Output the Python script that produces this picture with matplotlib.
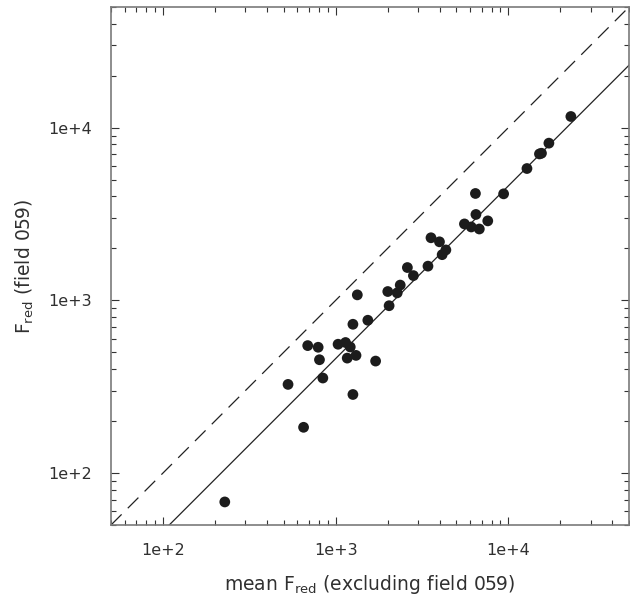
import matplotlib
matplotlib.use("Agg")
import matplotlib.pyplot as plt
import numpy as np
from matplotlib.ticker import LogLocator, FixedLocator, FixedFormatter, NullFormatter

plt.rcParams['font.family'] = ['DejaVu Sans']
plt.rcParams['mathtext.fontset'] = 'dejavusans'

# data
mean_f_red = [228, 530, 652, 689, 792, 806, 843, 1033, 1141, 1215, 1167, 1312,
              1259, 1259, 1335, 1536, 1704, 2004, 2040, 2273, 2366, 2603, 2821,
              3425, 3566, 3993, 4139, 4349, 5571, 6099, 6450, 6493, 6793, 7603,
              9393, 12823, 15150, 15560, 17180, 23030]
f_red_059 = [68, 326, 184, 547, 535, 453, 355, 557, 570, 537, 463, 480,
             727, 285, 1076, 767, 445, 1125, 931, 1105, 1226, 1549, 1391,
             1578, 2304, 2183, 1839, 1959, 2771, 2661, 4159, 3144, 2590, 2886,
             4139, 5801, 7047, 7112, 8136, 11610]
axis_limits = [50, 50000]
fit_ratio = 0.46
major_ticks = [1e2, 1e3, 1e4]
major_labels = ['1e+2', '1e+3', '1e+4']

text_color = '#303030'
frame_color = '#7a7a7a'

fig = plt.figure(figsize=(6.30, 6.04), dpi=100)
ax = fig.add_axes([111/630, 79/604, 518/630, 518/604])
ax.set_xscale('log')
ax.set_yscale('log')
ax.set_xlim(axis_limits)
ax.set_ylim(axis_limits)

lx = np.array(axis_limits, dtype=float)
ax.plot(lx, lx, color='#222222', lw=0.9, dashes=(12, 7))
ax.plot(lx, fit_ratio * lx, color='#222222', lw=0.9)

ax.scatter(mean_f_red, f_red_059, s=60, color='#1c1c1c', edgecolors='none', zorder=3)

for a in (ax.xaxis, ax.yaxis):
    a.set_major_locator(FixedLocator(major_ticks))
    a.set_major_formatter(FixedFormatter(major_labels))
    a.set_minor_locator(LogLocator(base=10, subs=np.arange(2, 10)))
    a.set_minor_formatter(NullFormatter())

ax.tick_params(which='both', direction='in', top=True, right=True,
               color='#333333', width=0.8, labelcolor=text_color, labelsize=11.5)
ax.tick_params(which='major', length=5.5)
ax.tick_params(which='minor', length=3.5)
ax.tick_params(axis='x', which='major', pad=13)
ax.tick_params(axis='y', which='major', pad=14)

for s in ax.spines.values():
    s.set_color(frame_color)
    s.set_linewidth(1.2)

fig.text(370/630, 1 - 585/604, r'mean F$_{\mathrm{red}}$ (excluding field 059)',
         fontsize=13.5, color=text_color, ha='center', va='center')
fig.text(25/630, 1 - 266/604, r'F$_{\mathrm{red}}$ (field 059)',
         fontsize=13.5, color=text_color, ha='center', va='center', rotation=90)

fig.savefig('out.png', dpi=100)
